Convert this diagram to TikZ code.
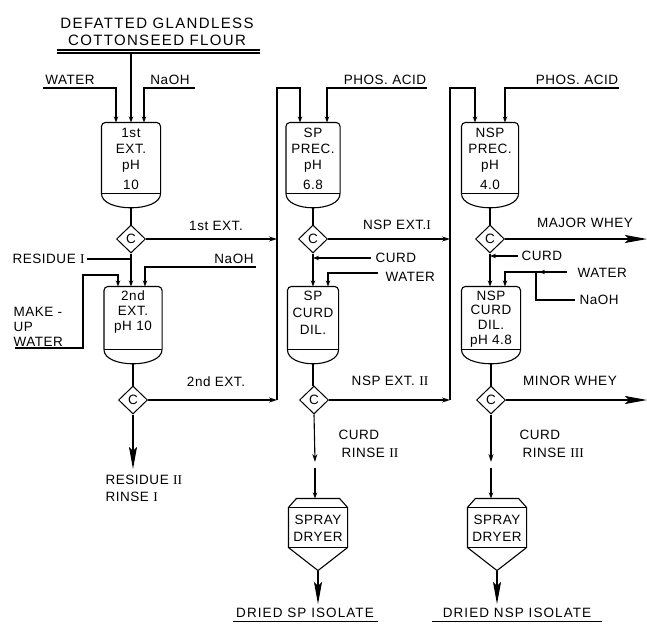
\documentclass[tikz,border=0pt]{standalone}
\usepackage{fontspec}
\setmainfont{Liberation Sans}[LetterSpace=4]
\newfontfamily\romnum{Liberation Serif}
\usetikzlibrary{arrows.meta,shapes.geometric,calc}
\newcommand{\tankdraw}[1]{%
  \draw[rounded corners=4pt] (#1.south west) -- (#1.north west) -- (#1.north east) -- (#1.south east);
  \draw (#1.south west) -- (#1.south east);
  \draw (#1.south west) .. controls +(0pt,-19pt) and +(0pt,-19pt) .. (#1.south east);
  \coordinate (#1b) at ($(#1.south)+(0pt,-14pt)$);
}
\newcommand{\dryerdraw}[1]{%
  \draw ($(#1.north west)+(8pt,0pt)$) -- ($(#1.north east)+(-8pt,0pt)$) -- ($(#1.north east)+(0pt,-9pt)$)
     -- (#1.south east) -- ($(#1.south)+(0pt,-23pt)$) -- (#1.south west) -- ($(#1.north west)+(0pt,-9pt)$) -- cycle;
  \draw ($(#1.north west)+(0pt,-9pt)$) -- ($(#1.north east)+(0pt,-9pt)$);
  \draw (#1.south west) -- (#1.south east);
  \coordinate (#1tip) at ($(#1.south)+(0pt,-23pt)$);
}
\begin{document}
\begin{tikzpicture}[x=1pt,y=-1pt,line width=1.1pt,
  lbl/.style={font=\fontsize{13.5}{16}\selectfont, inner sep=0pt},
  tank/.style={draw=none, inner sep=0pt},
  dryer/.style={draw=none, inner sep=0pt, minimum width=58pt, minimum height=48pt},
  dia/.style={diamond, draw, aspect=1, minimum width=29pt, minimum height=28pt, inner sep=0pt, line width=1pt, font=\fontsize{13.5}{16}\selectfont},
  sarrow/.style={-{Stealth[length=6pt,width=4.5pt]}},
  marrow/.style={-{Stealth[length=8pt,width=5pt]}},
  barrow/.style={-{Stealth[length=22pt,width=8pt,inset=4pt]}}]
\useasboundingbox (0,0) rectangle (647,623);

% title
\node[lbl, font=\fontsize{15}{18}\selectfont\addfontfeature{LetterSpace=9}] (title1) at (157,23) {DEFATTED GLANDLESS};
\node[lbl, font=\fontsize{15}{18}\selectfont\addfontfeature{LetterSpace=9}] (title2) at (157,40) {COTTONSEED FLOUR};
\draw (57,50) -- (260,50);
\draw (57,53) -- (260,53);
\coordinate (flour) at (131,53);

% column A
\node[tank, minimum width=58pt, minimum height=70pt] (t1) at (131,158) {};
\tankdraw{t1}
\node[lbl, align=center] (t1txt) at (131,159) {1st\\EXT.\\pH\\[4pt]10};
\node[tank, minimum width=57pt, minimum height=62pt] (t2) at (133,318) {};
\tankdraw{t2}
\node[lbl, align=center, font=\fontsize{13.5}{15}\selectfont] (t2txt) at (133,312) {2nd\\EXT.\\pH 10};
\node[dia] (d1) at (131,239) {C};
\node[dia] (d2) at (133,400) {C};

\draw[sarrow] (flour) -- (flour |- t1.north);
\node[lbl] (water1) at (70,80) {WATER};
\draw[sarrow] (43,88) -| ($(t1.north)+(-15pt,0pt)$);
\node[lbl] (naoh1) at (170,80) {NaOH};
\draw[sarrow] (195,88) -| ($(t1.north)+(13pt,0pt)$);

\draw (t1b) -- (t1b |- d1.north);
\node[lbl] (ext1) at (216,226) {1st EXT.};
\coordinate (byAtop) at (277,88);
\coordinate (byAbot) at (277,400);
\draw[marrow] (d1.east) -- (d1.east -| byAtop);

\draw[sarrow] (d1.south) -- (d1.south |- t2.north);
\node[lbl, anchor=west] (res1) at (12,259) {RESIDUE {\romnum I}};
\draw ([xshift=2pt]res1.east) -- (res1.east -| d1.south);
\node[lbl] (naoh2) at (234,259) {NaOH};
\draw[sarrow] (256,267) -| ($(t2.north)+(12pt,0pt)$);
\node[lbl, anchor=west, align=left, font=\fontsize{13.5}{15}\selectfont] (mkw) at (13,327) {MAKE -\\UP\\WATER};
\draw[sarrow] (15,348) -- (83,348) -- (83,275) -| ($(t2.north)+(-15pt,0pt)$);

\draw (t2b) -- (t2b |- d2.north);
\node[lbl] (ext2) at (216,382) {2nd EXT.};
\draw[marrow] (d2.east) -- (d2.east -| byAtop);
\coordinate (res2) at (133,469);
\draw[barrow] (d2.south) -- (res2);
\node[lbl, anchor=west] (res2a) at (105,480) {RESIDUE {\romnum II}};
\node[lbl, anchor=west] (res2b) at (105,497) {RINSE {\romnum I}};

% bypass A
\node[tank, minimum width=53pt, minimum height=70pt] (t3) at (313,158) {};
\tankdraw{t3}
\draw[sarrow] (byAbot) -- (byAtop) -| ($(t3.north)+(-13pt,0pt)$);

% column B
\node[lbl, align=center] (t3txt) at (313,159) {SP\\PREC.\\pH\\[4pt]6.8};
\node[lbl] (phos1) at (385,80) {PHOS. ACID};
\draw[sarrow] (427,88) -| ($(t3.north)+(14pt,0pt)$);
\node[dia] (d3) at (313,239) {C};
\draw (t3b) -- (t3b |- d3.north);
\coordinate (byBtop) at (450,88);
\coordinate (byBbot) at (450,400);
\node[lbl] (nspe1) at (397,225) {NSP EXT.{\romnum I}};
\draw[marrow] (d3.east) -- (d3.east -| byBtop);

\node[tank, minimum width=50pt, minimum height=62pt] (t5) at (313,318) {};
\tankdraw{t5}
\node[lbl, align=center, font=\fontsize{13.5}{17}\selectfont] (t5txt) at (313,313) {SP\\CURD\\DIL.};
\node[lbl, anchor=west] (curd1) at (375,258) {CURD};
\draw[sarrow] ([xshift=-4pt]curd1.west) -- (curd1.west -| d3.south);
\draw[sarrow] (d3.south) -- (d3.south |- t5.north);
\node[lbl, anchor=west] (water2) at (385,277) {WATER};
\draw[sarrow] (378,273) -| ($(t5.north)+(15pt,0pt)$);

\node[dia] (d4) at (314,400) {C};
\draw (t5b) -- (t5b |- d4.north);
\node[lbl] (nspe2) at (390,381) {NSP EXT. {\romnum II}};
\draw[marrow] (d4.east) -- (d4.east -| byBtop);

\node[dryer] (dr1) at (318,523) {};
\dryerdraw{dr1}
\node[lbl, align=center, font=\fontsize{13.5}{17}\selectfont] (dr1txt) at (318,528) {SPRAY\\DRYER};
\coordinate (brk1a) at (315,462);
\coordinate (brk1b) at (315,468);
\draw[marrow] (d4.south) -- (brk1a);
\draw[sarrow] (brk1b) -- (brk1b |- dr1.north);
\node[lbl, anchor=west] (cr2a) at (338,435) {CURD};
\node[lbl, anchor=west] (cr2b) at (341,453) {RINSE {\romnum II}};
\coordinate (out1) at (318,604);
\draw[barrow] (dr1tip) -- (out1);
\node[lbl, font=\fontsize{13.5}{16}\selectfont\addfontfeature{LetterSpace=8}] (iso1) at (305,613) {DRIED SP ISOLATE};
\draw[line width=0.8pt] (233,621) -- (378,621);

% column C
\node[tank, minimum width=56pt, minimum height=70pt] (t4) at (490,158) {};
\tankdraw{t4}
\draw[sarrow] (byBbot) -- (byBtop) -| ($(t4.north)+(-15pt,0pt)$);
\node[lbl, align=center] (t4txt) at (490,159) {NSP\\PREC.\\pH\\[4pt]4.0};
\node[lbl] (phos2) at (577,80) {PHOS. ACID};
\draw[sarrow] (619,88) -| ($(t4.north)+(15pt,0pt)$);
\node[dia] (d5) at (490,239) {C};
\draw (t4b) -- (t4b |- d5.north);
\node[lbl] (major) at (585,223) {MAJOR WHEY};
\coordinate (majend) at (647,239);
\draw[barrow] (d5.east) -- (majend);

\node[tank, minimum width=58pt, minimum height=62pt] (t6) at (491,318) {};
\tankdraw{t6}
\node[lbl, align=center, font=\fontsize{13.5}{14.7}\selectfont] (t6txt) at (491,319) {NSP\\CURD\\DIL.\\pH 4.8};
\node[lbl, anchor=west] (curd2) at (521,256) {CURD};
\draw[sarrow] ([xshift=-3pt]curd2.west) -- (curd2.west -| d5.south);
\draw[sarrow] (d5.south) -- (d5.south |- t6.north);
\node[lbl, anchor=west] (water3) at (577,273) {WATER};
\coordinate (w3s) at (567,272);
\draw[sarrow] (w3s) -| ($(t6.north)+(14pt,0pt)$);
\draw[sarrow] (w3s) -- (539,272);
\node[lbl, anchor=west] (naoh3) at (579,300) {NaOH};
\draw ([xshift=-4pt]naoh3.west) -| (536,272);

\node[dia] (d6) at (491,400) {C};
\draw (t6b) -- (t6b |- d6.north);
\node[lbl] (minor) at (570,381) {MINOR WHEY};
\coordinate (minend) at (647,400);
\draw[barrow] (d6.east) -- (minend);

\node[dryer] (dr2) at (497,523) {};
\dryerdraw{dr2}
\node[lbl, align=center, font=\fontsize{13.5}{17}\selectfont] (dr2txt) at (497,528) {SPRAY\\DRYER};
\coordinate (brk2a) at (491,462);
\coordinate (brk2b) at (491,468);
\draw[marrow] (d6.south) -- (brk2a);
\draw[sarrow] (brk2b) -- (brk2b |- dr2.north);
\node[lbl, anchor=west] (cr3a) at (519,435) {CURD};
\node[lbl, anchor=west] (cr3b) at (522,453) {RINSE {\romnum III}};
\coordinate (out2) at (497,604);
\draw[barrow] (dr2tip) -- (out2);
\node[lbl, font=\fontsize{13.5}{16}\selectfont\addfontfeature{LetterSpace=8}] (iso2) at (517,613) {DRIED NSP ISOLATE};
\draw[line width=0.8pt] (432,621) -- (602,621);
\end{tikzpicture}
\end{document}
